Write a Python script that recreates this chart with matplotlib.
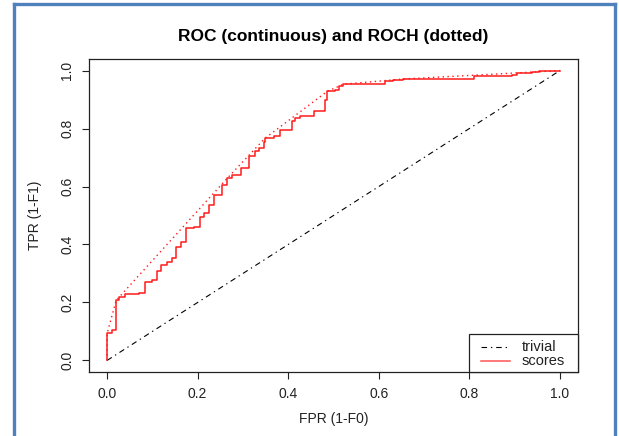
import matplotlib
matplotlib.use("Agg")
import matplotlib.pyplot as plt
from matplotlib.lines import Line2D
from matplotlib.patches import Rectangle

# ---------------- data ----------------
roc_fpr = [0.0, 0.0, 0.011, 0.020, 0.026, 0.040, 0.070, 0.084, 0.100, 0.111,
           0.119, 0.133, 0.144, 0.153, 0.163, 0.174, 0.192, 0.205, 0.215, 0.225,
           0.236, 0.253, 0.265, 0.276, 0.295, 0.313, 0.327, 0.335, 0.347, 0.349,
           0.368, 0.381, 0.382, 0.408, 0.415, 0.426, 0.456, 0.481, 0.486, 0.503,
           0.513, 0.522, 0.613, 0.631, 0.654, 0.811, 0.895, 0.906, 0.939, 0.954,
           1.0]
roc_tpr = [0.0, 0.093, 0.104, 0.207, 0.218, 0.228, 0.233, 0.269, 0.277, 0.309,
           0.329, 0.340, 0.352, 0.392, 0.410, 0.456, 0.461, 0.496, 0.507, 0.536,
           0.571, 0.606, 0.628, 0.640, 0.663, 0.706, 0.721, 0.732, 0.755, 0.767,
           0.773, 0.784, 0.796, 0.825, 0.836, 0.844, 0.859, 0.897, 0.928, 0.934,
           0.946, 0.953, 0.963, 0.966, 0.971, 0.983, 0.986, 0.992, 0.995, 1.0,
           1.0]
roch_fpr = [0.0, 0.0, 0.020, 0.265, 0.349, 0.486, 0.522, 0.654, 1.0]
roch_tpr = [0.0, 0.093, 0.207, 0.628, 0.767, 0.928, 0.953, 0.971, 1.0]
trivial_x = [0.0, 1.0]
trivial_y = [0.0, 1.0]

ticks = [0.0, 0.2, 0.4, 0.6, 0.8, 1.0]
tick_labels = ["0.0", "0.2", "0.4", "0.6", "0.8", "1.0"]
legend_labels = ["trivial", "scores"]
title = "ROC (continuous) and ROCH (dotted)"
xlabel = "FPR (1-F0)"
ylabel = "TPR (1-F1)"

# ---------------- figure ----------------
plt.rcParams['font.family'] = ['Liberation Sans', 'DejaVu Sans']
W, H = 619, 436
fig = plt.figure(figsize=(W / 100, H / 100), dpi=100)
fig.patch.set_facecolor('white')

L, R, T, B = 89, 578, 59, 372
ax = fig.add_axes([L / W, 1 - B / H, (R - L) / W, (B - T) / H])

dashdot = (0, (5, 3.5, 1.2, 3.5))
ax.plot(trivial_x, trivial_y, color='black', lw=0.8, linestyle=dashdot)
ax.plot(roc_fpr, roc_tpr, color='#ff1a1a', lw=1.1, drawstyle='steps-post')
ax.plot(roch_fpr, roch_tpr, color='#ff1a1a', lw=1.0, linestyle=(0, (1, 2.5)))

ax.set_xlim(-0.04, 1.04)
ax.set_ylim(-0.04, 1.04)
ax.set_xticks(ticks)
ax.set_xticklabels(tick_labels)
ax.set_yticks(ticks)
ax.set_yticklabels(tick_labels, rotation=90, va='center')
ax.tick_params(axis='both', direction='out', length=5, width=0.8,
               labelsize=10, colors='#222222')
ax.tick_params(axis='x', pad=6)
ax.tick_params(axis='y', pad=5.5)
for s in ax.spines.values():
    s.set_linewidth(0.9)
    s.set_color('#222222')

ax.set_xlabel(xlabel, fontsize=10, labelpad=8, color='#222222')
ax.set_ylabel(ylabel, fontsize=10, labelpad=13, color='#222222')
ax.set_title(title, fontsize=12.5, fontweight='bold', pad=13)

# legend box drawn in pixel-based axes fractions
def fx(px):
    return (px - L) / (R - L)

def fy(py):
    return (B - py) / (B - T)

ax.add_patch(Rectangle((fx(469), fy(372)), fx(578) - fx(469), fy(334) - fy(372),
                       transform=ax.transAxes, facecolor='white',
                       edgecolor='#222222', lw=0.9, zorder=5, clip_on=False))
leg_styles = [dict(color='black', lw=0.8, linestyle=dashdot),
              dict(color='#ff5555', lw=1.1, linestyle='-')]
leg_rows = [347, 361]
for lab, st, py in zip(legend_labels, leg_styles, leg_rows):
    ax.add_line(Line2D([fx(481), fx(510)], [fy(py), fy(py)], transform=ax.transAxes,
                       zorder=6, clip_on=False, **st))
    ax.text(fx(522), fy(py), lab, transform=ax.transAxes, fontsize=10.5,
            va='center', ha='left', color='#222222', zorder=6)

# blue screenshot border
blue = '#4f81bd'
for xs, ys in [([14, 14], [436, 4]), ([14, 615], [4, 4]), ([615, 615], [4, 436])]:
    fig.add_artist(Line2D([x / W for x in xs], [1 - y / H for y in ys], color=blue,
                          lw=2.4, transform=fig.transFigure,
                          solid_capstyle='projecting'))

fig.savefig('out.png', dpi=100)
